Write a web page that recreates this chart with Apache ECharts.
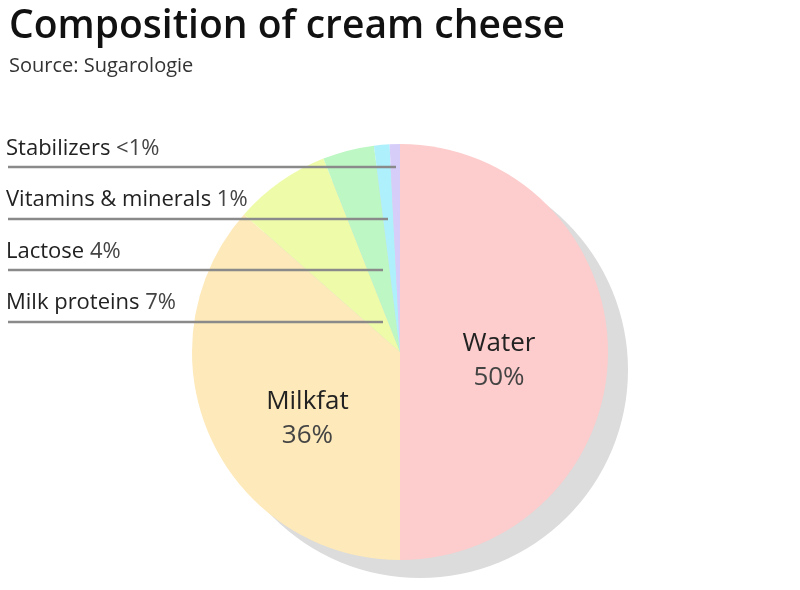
<!DOCTYPE html><html><head><meta charset="utf-8"><script src="https://cdn.jsdelivr.net/npm/echarts@6/dist/echarts.min.js"></script>
<style>body{margin:0}#c{width:800px;height:590px}</style></head><body><div id="c"></div><script>
const categories=['Water','Milkfat','Milk proteins','Lactose','Vitamins & minerals','Stabilizers'];
const values=[50,36.5,7.5,4,1.2,0.8];
const valueLabels=['50%','36%','7%','4%','1%','<1%'];
const colors=['#fdcccc','#fde9b9','#eefcaa','#bdf7c4','#aef0fb','#d6cdf9'];
const F='"Open Sans", "Noto Sans", sans-serif';
const chart=echarts.init(document.getElementById('c'));
const side=[['Stabilizers',5,148,167,396],['Vitamins & minerals',4,199,219,388],['Lactose',3,251,270,383],['Milk proteins',2,302,322,383]];
const g=[];
side.forEach(s=>{
 g.push({type:'text',left:6,top:s[2]-10,style:{text:s[0]+' {v|'+valueLabels[s[1]]+'}',font:'22px '+F,fill:'#222',rich:{v:{font:'22px '+F,fill:'#444'}}}});
 g.push({type:'line',shape:{x1:8,y1:s[3],x2:s[4],y2:s[3]},style:{stroke:'#8a8a8a',lineWidth:2.5},z:100});
});
const offsets=[[-8,9],[5,23]];
chart.setOption({
 title:{text:'Composition of cream cheese',subtext:'Source: Sugarologie',left:4,top:2,itemGap:10,
  textStyle:{fontFamily:F,fontSize:39,fontWeight:600,color:'#111'},subtextStyle:{fontFamily:F,fontSize:20,color:'#333'}},
 graphic:g,
 series:[
  {type:'pie',silent:true,center:[420,370],radius:208,data:[{value:1}],itemStyle:{color:'#dcdcdc'},label:{show:false},z:1},
  {type:'pie',center:[400,352],radius:208,startAngle:90,clockwise:true,z:2,
   data:categories.map((c,i)=>({name:c,value:values[i],itemStyle:{color:colors[i]},
     label:{show:i<2,offset:offsets[i]||[0,0]}})),
   label:{position:'inside',formatter:p=>'{n|'+p.name+'}\n{v|'+valueLabels[p.dataIndex]+'}',
    rich:{n:{fontFamily:F,fontSize:26,color:'#222',lineHeight:34},v:{fontFamily:F,fontSize:26,color:'#444',lineHeight:34}}},
   labelLine:{show:false},itemStyle:{borderWidth:0}}
 ]});
</script></body></html>
